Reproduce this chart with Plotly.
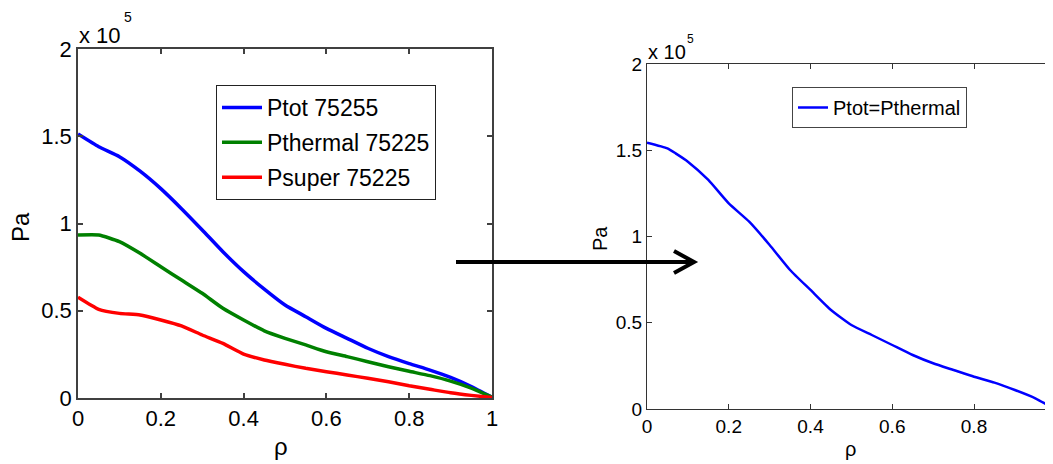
import plotly.graph_objects as go

# ---------------- data (pressure in units of 1e5 Pa) ----------------
rho_left = [0.0, 0.05, 0.1, 0.15, 0.2, 0.25, 0.3, 0.35, 0.4, 0.45, 0.5,
            0.55, 0.6, 0.65, 0.7, 0.75, 0.8, 0.85, 0.9, 0.95, 1.0]
ptot_75255 = [1.513, 1.44, 1.383, 1.30, 1.20, 1.085, 0.963, 0.838, 0.724, 0.624, 0.533,
              0.466, 0.399, 0.342, 0.285, 0.237, 0.197, 0.160, 0.118, 0.066, 0.005]
pthermal_75225 = [0.934, 0.934, 0.896, 0.829, 0.752, 0.676, 0.60, 0.514, 0.447, 0.385, 0.342,
                  0.304, 0.265, 0.237, 0.208, 0.179, 0.153, 0.128, 0.097, 0.057, 0.005]
psuper_75225 = [0.577, 0.508, 0.485, 0.476, 0.447, 0.413, 0.361, 0.313, 0.252, 0.218, 0.193,
                0.170, 0.151, 0.132, 0.113, 0.093, 0.07, 0.05, 0.03, 0.015, 0.003]

rho_right = [0.0, 0.05, 0.07, 0.1, 0.15, 0.2, 0.25, 0.3, 0.35, 0.4, 0.45, 0.5,
             0.55, 0.6, 0.65, 0.7, 0.75, 0.8, 0.85, 0.9, 0.95, 0.99]
ptot_pthermal = [1.544, 1.511, 1.482, 1.434, 1.328, 1.192, 1.086, 0.951, 0.806, 0.690, 0.574, 0.487,
                 0.429, 0.371, 0.313, 0.265, 0.226, 0.187, 0.153, 0.110, 0.062, 0.01]

left_names = ["Ptot 75255", "Pthermal 75225", "Psuper 75225"]
right_name = "Ptot=Pthermal"
x_ticks = [0, 0.2, 0.4, 0.6, 0.8, 1]
x_tick_text = ["0", "0.2", "0.4", "0.6", "0.8", "1"]
y_ticks = [0, 0.5, 1, 1.5, 2]
y_tick_text = ["0", "0.5", "1", "1.5", "2"]

# ---------------- layout helpers ----------------
# The page body has an 8px default margin, so the figure is 8px smaller on
# each side and all target pixel positions are shifted by that offset.
VW, VH = 1053, 464
OFF = 8
W, H = VW - OFF, VH - OFF
FONT = "Liberation Sans, Arial, Helvetica, sans-serif"


def px(x):
    return (x - OFF) / W


def py(y):
    return 1 - (y - OFF) / H


fig = go.Figure()

colors = ["#0000FF", "#008000", "#FF0000"]
for i, (name, vals) in enumerate(zip(left_names, [ptot_75255, pthermal_75225, psuper_75225])):
    fig.add_trace(go.Scatter(
        x=rho_left, y=vals, mode="lines", name=name,
        line=dict(color=colors[i], width=3.5, shape="spline", smoothing=0.5),
        xaxis="x", yaxis="y", legend="legend", legendgroup=f"g{i}"))

fig.add_trace(go.Scatter(
    x=rho_right, y=ptot_pthermal, mode="lines", name=right_name,
    line=dict(color="#0000FF", width=2.5, shape="spline", smoothing=0.5),
    xaxis="x2", yaxis="y2", legend="legend2"))

axis_common = dict(showgrid=False, zeroline=False, showline=True, ticks="inside",
                   ticklen=5, automargin=False)

fig.update_layout(
    width=W, height=H,
    margin=dict(l=0, r=0, t=0, b=0, pad=0, autoexpand=False),
    paper_bgcolor="white", plot_bgcolor="white",
    font=dict(family=FONT, color="black"),
    xaxis=dict(domain=[px(78), px(492)], range=[0, 1], anchor="y",
               tickvals=x_ticks, ticktext=x_tick_text, mirror="ticks",
               linecolor="#404040", linewidth=1.5, tickcolor="#404040", tickwidth=1.5,
               tickfont=dict(size=22, color="black"), **axis_common),
    yaxis=dict(domain=[py(398), py(49)], range=[0, 2], anchor="x",
               tickvals=y_ticks, ticktext=y_tick_text, mirror="ticks",
               linecolor="#404040", linewidth=1.5, tickcolor="#404040", tickwidth=1.5,
               tickfont=dict(size=22, color="black"), **axis_common),
    xaxis2=dict(domain=[px(647), 1.0], range=[0, (VW - 647) / 408.75], anchor="y2",
                tickvals=x_ticks, ticktext=x_tick_text, mirror="ticks",
                linecolor="#333333", linewidth=1, tickcolor="#333333", tickwidth=1,
                tickfont=dict(size=19, color="black"), **axis_common),
    yaxis2=dict(domain=[py(409), py(64)], range=[0, 2], anchor="x2",
                tickvals=y_ticks, ticktext=y_tick_text, mirror=False,
                linecolor="#333333", linewidth=1, tickcolor="#333333", tickwidth=1,
                tickfont=dict(size=19, color="black"), **axis_common),
    legend=dict(x=px(216), y=py(85), xanchor="left", yanchor="top",
                bgcolor="white", bordercolor="#222222", borderwidth=1,
                font=dict(size=23, color="black"), tracegroupgap=2, itemwidth=40),
    legend2=dict(x=px(792), y=py(87), xanchor="left", yanchor="top",
                 bgcolor="white", bordercolor="#444444", borderwidth=1,
                 font=dict(size=20, color="black"), itemwidth=30),
    showlegend=True,
)

ann = []


def add_text(text, x, y, size, angle=0, xanchor="center", yanchor="middle"):
    ann.append(dict(text=text, x=px(x), y=py(y), xref="paper", yref="paper",
                    showarrow=False, textangle=angle, xanchor=xanchor, yanchor=yanchor,
                    font=dict(size=size, color="black", family=FONT)))


# exponent labels
add_text("x 10", 77, 36, 22, xanchor="left")
add_text("5", 122, 17, 14, xanchor="left")
add_text("x 10", 646, 52, 20, xanchor="left")
add_text("5", 685, 39, 12, xanchor="left")
# axis titles
add_text("Pa", 20, 227, 24, angle=-90)
add_text("ρ", 281, 446, 24)
add_text("Pa", 600, 239, 20, angle=-90)
add_text("ρ", 850, 449, 20)
fig.update_layout(annotations=ann)

# arrow between the panels
fig.add_shape(type="line", xref="paper", yref="paper",
              x0=px(456), y0=py(262), x1=px(693), y1=py(262),
              line=dict(color="black", width=4))
fig.add_shape(type="path", xref="paper", yref="paper",
              path=f"M {px(674)} {py(251)} L {px(694)} {py(262)} L {px(674)} {py(273)}",
              line=dict(color="black", width=4))

fig.write_html("out.html")
